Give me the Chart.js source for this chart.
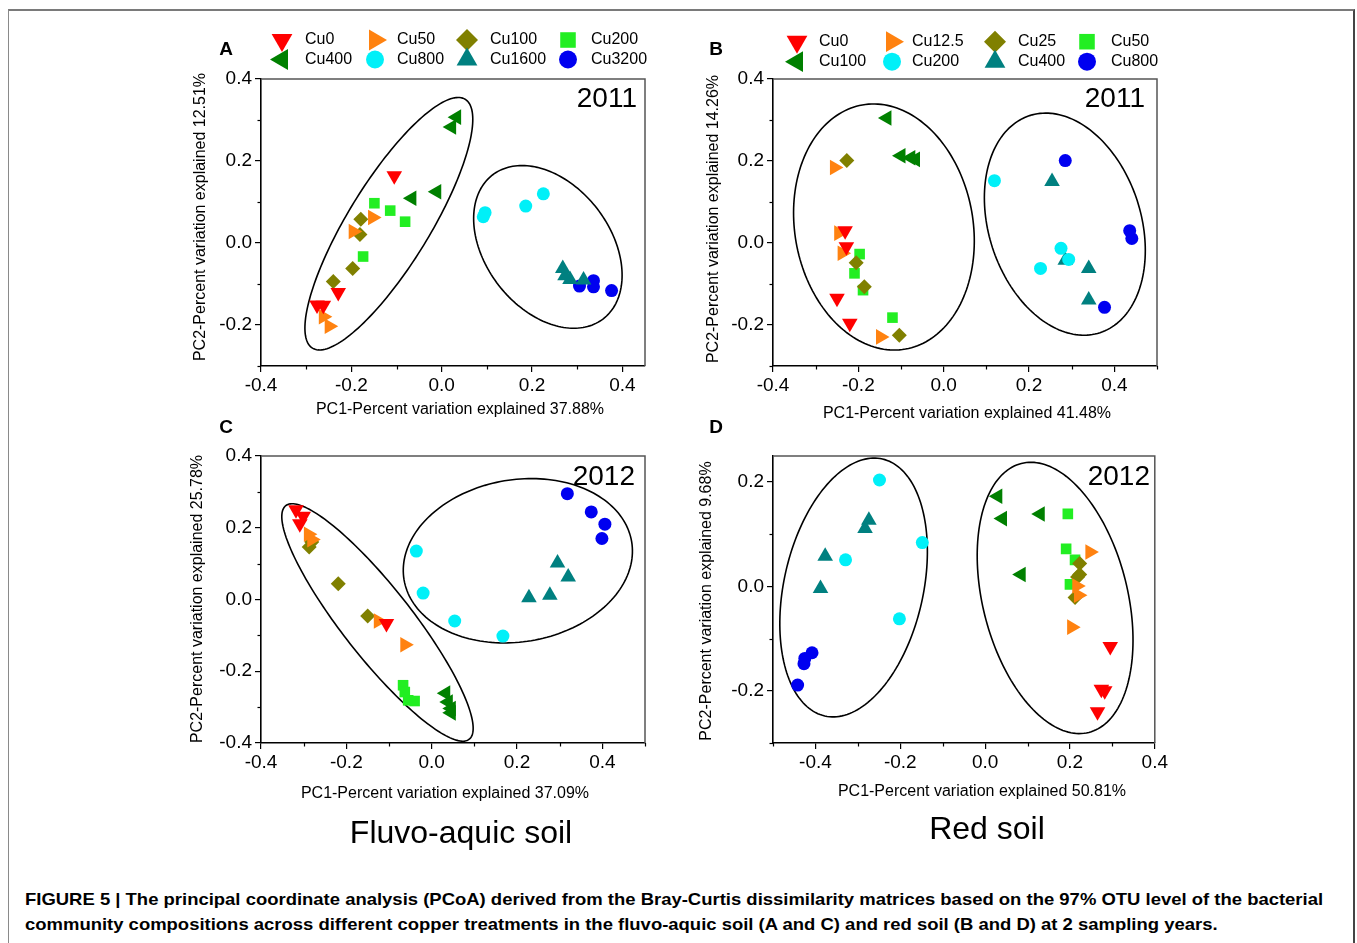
<!DOCTYPE html>
<html>
<head>
<meta charset="utf-8">
<script src="https://cdn.jsdelivr.net/npm/chart.js@4.4.1/dist/chart.umd.min.js"></script>
<style>
  html, body { margin:0; padding:0; background:#fff; }
  body { width:1357px; height:943px; overflow:hidden; position:relative; font-family:"Liberation Sans", Arial, Helvetica, sans-serif; }
  #frame { position:absolute; left:8px; top:9px; width:1344px; height:1000px; border-top:2px solid #7a7a7a; border-left:1.5px solid #8a8a8a; border-right:2px solid #444; }
  canvas { position:absolute; }
  .soil { position:absolute; font-size:32px; color:#000; white-space:nowrap; transform:translate(-50%,-50%); }
  #caption { position:absolute; left:25px; top:887px; font-weight:bold; font-size:17px; line-height:25px; color:#000; white-space:nowrap; }
  #caption div { transform-origin:0 50%; display:block; }
</style>
</head>
<body>
<div id="frame"></div>
<canvas id="cA" width="470" height="400" style="left:190px;top:20px"></canvas>
<canvas id="cB" width="480" height="400" style="left:690px;top:20px"></canvas>
<canvas id="cC" width="470" height="440" style="left:190px;top:410px"></canvas>
<canvas id="cD" width="480" height="440" style="left:690px;top:410px"></canvas>
<div class="soil" style="left:461px;top:832px">Fluvo-aquic soil</div>
<div class="soil" style="left:987px;top:828px">Red soil</div>
<div id="caption">
  <div id="cap1">FIGURE 5 | The principal coordinate analysis (PCoA) derived from the Bray-Curtis dissimilarity matrices based on the 97% OTU level of the bacterial</div>
  <div id="cap2">community compositions across different copper treatments in the fluvo-aquic soil (A and C) and red soil (B and D) at 2 sampling years.</div>
</div>
<script>
// ---------------- DATA ----------------
const treatmentsFluvo = ['Cu0','Cu50','Cu100','Cu200','Cu400','Cu800','Cu1600','Cu3200'];
const treatmentsRed   = ['Cu0','Cu12.5','Cu25','Cu50','Cu100','Cu200','Cu400','Cu800'];

// Panel A: fluvo-aquic soil, 2011  (PC1, PC2) per treatment
const pcoaA = [
  [[-0.105,0.164],[-0.229,-0.121],[-0.276,-0.151],[-0.262,-0.152]],
  [[-0.153,0.062],[-0.196,0.028],[-0.262,-0.180],[-0.249,-0.203]],
  [[-0.179,0.058],[-0.181,0.021],[-0.197,-0.062],[-0.240,-0.094]],
  [[-0.149,0.097],[-0.114,0.079],[-0.081,0.052],[-0.174,-0.033]],
  [[0.033,0.307],[0.022,0.283],[-0.066,0.109],[-0.011,0.125]],
  [[0.092,0.064],[0.096,0.074],[0.186,0.090],[0.225,0.120]],
  [[0.268,-0.062],[0.273,-0.080],[0.284,-0.089],[0.314,-0.090]],
  [[0.305,-0.105],[0.336,-0.092],[0.336,-0.107],[0.376,-0.116]]
];
// Panel B: red soil, 2011
const pcoaB = [
  [[-0.231,0.030],[-0.228,-0.009],[-0.250,-0.135],[-0.220,-0.196]],
  [[-0.256,0.184],[-0.246,0.024],[-0.238,-0.025],[-0.148,-0.229]],
  [[-0.227,0.201],[-0.205,-0.048],[-0.186,-0.107],[-0.104,-0.225]],
  [[-0.197,-0.027],[-0.209,-0.074],[-0.189,-0.115],[-0.120,-0.182]],
  [[-0.133,0.305],[-0.100,0.213],[-0.077,0.208],[-0.066,0.204]],
  [[0.119,0.152],[0.275,-0.013],[0.293,-0.040],[0.227,-0.062]],
  [[0.254,0.150],[0.285,-0.042],[0.340,-0.062],[0.340,-0.139]],
  [[0.285,0.201],[0.436,0.030],[0.441,0.011],[0.377,-0.157]]
];
// Panel C: fluvo-aquic soil, 2012
const pcoaC = [
  [[-0.318,0.250],[-0.301,0.232],[-0.309,0.211],[-0.106,-0.067]],
  [[-0.289,0.182],[-0.281,0.167],[-0.125,-0.060],[-0.063,-0.126]],
  [[-0.281,0.160],[-0.287,0.146],[-0.219,0.044],[-0.150,-0.046]],
  [[-0.067,-0.239],[-0.063,-0.258],[-0.055,-0.281],[-0.040,-0.283]],
  [[0.033,-0.261],[0.039,-0.286],[0.046,-0.304],[0.046,-0.316]],
  [[-0.036,0.135],[-0.020,0.018],[0.054,-0.060],[0.167,-0.102]],
  [[0.228,0.005],[0.277,0.012],[0.295,0.102],[0.320,0.063]],
  [[0.318,0.295],[0.374,0.244],[0.406,0.210],[0.399,0.170]]
];
// Panel D: red soil, 2012
const pcoaD = [
  [[0.295,-0.115],[0.274,-0.197],[0.282,-0.200],[0.265,-0.240]],
  [[0.247,0.066],[0.216,0.001],[0.220,-0.017],[0.204,-0.078]],
  [[0.223,0.044],[0.223,0.023],[0.218,0.018],[0.212,-0.021]],
  [[0.195,0.139],[0.191,0.072],[0.212,0.051],[0.200,0.004]],
  [[0.030,0.173],[0.041,0.130],[0.130,0.139],[0.085,0.023]],
  [[-0.249,0.204],[-0.148,0.084],[-0.329,0.051],[-0.202,-0.062]],
  [[-0.274,0.127],[-0.283,0.111],[-0.377,0.058],[-0.388,-0.004]],
  [[-0.408,-0.127],[-0.425,-0.138],[-0.427,-0.148],[-0.442,-0.189]]
];

// Group ellipses (centre, two conjugate semi-axis vectors, in data units)
const ellipsesA = [ {c:[-0.117,0.047], u:[0.169,0.3035], v:[0.0772,-0.052]}, {c:[0.235,-0.0095], u:[0.1226,-0.1754], v:[0.1094,0.0928]} ];
const ellipsesB = [ {c:[-0.140,0.039], u:[0.0505,-0.2977], v:[0.2057,0.0379]}, {c:[0.284,0.046], u:[0.0825,-0.2647], v:[0.1696,0.0574]} ];
const ellipsesC = [ {c:[-0.127,-0.064], u:[0.215,-0.3255], v:[0.0638,0.0598]}, {c:[0.202,0.108], u:[0.2667,0.0533], v:[0.0315,-0.2228]} ];
const ellipsesD = [ {c:[-0.310,-0.002], u:[0.068,0.2462], v:[0.1601,-0.0295]}, {c:[0.165,-0.022], u:[0.0796,-0.2577], v:[0.1655,0.0341]} ];

// Tick labels
const ticksPC1 = [-0.4,-0.2,0.0,0.2,0.4];
const minorPC1 = [-0.3,-0.1,0.1,0.3];
const minorPC1Wide = [-0.3,-0.1,0.1,0.3,0.5];
const minorPC1D = [-0.5,-0.3,-0.1,0.1,0.3];
const ticksPC2_2011 = [-0.2,0.0,0.2,0.4];
const minorPC2_2011 = [-0.3,-0.1,0.1,0.3];
const ticksPC2_C = [-0.4,-0.2,0.0,0.2,0.4];
const minorPC2_C = [-0.3,-0.1,0.1,0.3];
const ticksPC2_D = [-0.2,0.0,0.2];
const minorPC2_D = [-0.3,-0.1,0.1];

const years = ['2011','2011','2012','2012'];
const panelLetters = ['A','B','C','D'];
const pc1Titles = ['PC1-Percent variation explained 37.88%','PC1-Percent variation explained 41.48%','PC1-Percent variation explained 37.09%','PC1-Percent variation explained 50.81%'];
const pc2Titles = ['PC2-Percent variation explained 12.51%','PC2-Percent variation explained 14.26%','PC2-Percent variation explained 25.78%','PC2-Percent variation explained 9.68%'];

// ---------------- STYLE ----------------
const FONT = '"Liberation Sans", Arial, Helvetica, sans-serif';
const markers = [
  {shape:'triangle', rot:180, color:'#FF0000', r:9,   lr:12},
  {shape:'triangle', rot:90,  color:'#FF8210', r:9,   lr:12},
  {shape:'rectRot',  rot:0,   color:'#808000', r:7.5, lr:11},
  {shape:'rect',     rot:0,   color:'#22EE22', r:7.5, lr:11},
  {shape:'triangle', rot:270, color:'#008000', r:9,   lr:12},
  {shape:'circle',   rot:0,   color:'#00F0F8', r:6.5, lr:9},
  {shape:'triangle', rot:0,   color:'#008080', r:9,   lr:12},
  {shape:'circle',   rot:0,   color:'#0000F0', r:6.5, lr:9}
];

function drawMarker(ctx, m, x, y, r) {
  ctx.save();
  ctx.fillStyle = m.color;
  ctx.beginPath();
  if (m.shape === 'circle') {
    ctx.arc(x, y, r, 0, Math.PI*2);
  } else if (m.shape === 'triangle') {
    let rad = m.rot*Math.PI/180;
    ctx.moveTo(x + Math.sin(rad)*r, y - Math.cos(rad)*r);
    rad += 2*Math.PI/3; ctx.lineTo(x + Math.sin(rad)*r, y - Math.cos(rad)*r);
    rad += 2*Math.PI/3; ctx.lineTo(x + Math.sin(rad)*r, y - Math.cos(rad)*r);
  } else if (m.shape === 'rectRot') {
    ctx.moveTo(x-r, y); ctx.lineTo(x, y-r); ctx.lineTo(x+r, y); ctx.lineTo(x, y+r);
  } else {
    const s = Math.SQRT1_2*r; ctx.rect(x-s, y-s, 2*s, 2*s);
  }
  ctx.closePath(); ctx.fill();
  ctx.restore();
}

// layout of each panel (page coordinates)
const panels = [
  {canvas:'cA', ox:190, oy:20,  pts:pcoaA, names:treatmentsFluvo, ell:ellipsesA, xr:[-0.4,0.45], yr:[-0.3,0.4],
   xt:ticksPC1, xm:minorPC1, yt:ticksPC2_2011, ym:minorPC2_2011, pad:{top:59,right:15,left:0,bottom:0}, yW:71, xH:54,
   letter:[226,50], year:[637,99], xTitle:[460,410], yTitle:[201,217],
   legend:{mx:[282,375,467,568], tx:[305,397,490,591], ry:[40,59.5]}},
  {canvas:'cB', ox:690, oy:20,  pts:pcoaB, names:treatmentsRed, ell:ellipsesB, xr:[-0.4,0.5], yr:[-0.3,0.4],
   xt:ticksPC1, xm:minorPC1Wide, yt:ticksPC2_2011, ym:minorPC2_2011, pad:{top:59,right:13,left:0,bottom:0}, yW:83, xH:54,
   letter:[716,50], year:[1145,99], xTitle:[967,414], yTitle:[714,219],
   legend:{mx:[797,892,995,1087], tx:[819,912,1018,1111], ry:[41.7,61.7]}},
  {canvas:'cC', ox:190, oy:410, pts:pcoaC, names:treatmentsFluvo, ell:ellipsesC, xr:[-0.4,0.5], yr:[-0.4,0.4],
   xt:ticksPC1, xm:minorPC1Wide, yt:ticksPC2_C, ym:minorPC2_C, pad:{top:46,right:15,left:0,bottom:0}, yW:71, xH:107,
   letter:[226,428], year:[635,477], xTitle:[445,794], yTitle:[198,599],
   legend:null},
  {canvas:'cD', ox:690, oy:410, pts:pcoaD, names:treatmentsRed, ell:ellipsesD, xr:[-0.5,0.4], yr:[-0.3,0.25],
   xt:ticksPC1, xm:minorPC1D, yt:ticksPC2_D, ym:minorPC2_D, pad:{top:46,right:13,left:0,bottom:0}, yW:83, xH:107,
   letter:[716,428], year:[1150,477], xTitle:[982,792], yTitle:[707,601],
   legend:null}
];

function fmt(v){ if (Math.abs(v) < 1e-9) v = 0; return v.toFixed(1); }

panels.forEach((p, idx) => {
  const decor = {
    id:'decor'+idx,
    beforeDatasetsDraw(chart) {
      const ctx = chart.ctx, xs = chart.scales.x, ys = chart.scales.y;
      ctx.save();
      ctx.strokeStyle = '#000'; ctx.lineWidth = 1.6;
      p.ell.forEach(e => {
        ctx.beginPath();
        for (let k = 0; k <= 180; k++) {
          const t = k/180*2*Math.PI;
          const dx = e.c[0] + Math.cos(t)*e.u[0] + Math.sin(t)*e.v[0];
          const dy = e.c[1] + Math.cos(t)*e.u[1] + Math.sin(t)*e.v[1];
          const px = xs.getPixelForValue(dx), py = ys.getPixelForValue(dy);
          if (k === 0) ctx.moveTo(px, py); else ctx.lineTo(px, py);
        }
        ctx.closePath(); ctx.stroke();
      });
      ctx.restore();
    },
    afterDraw(chart) {
      const ctx = chart.ctx, a = chart.chartArea, xs = chart.scales.x, ys = chart.scales.y;
      const ox = p.ox, oy = p.oy;
      ctx.save();
      // top / right frame
      ctx.strokeStyle = '#555'; ctx.lineWidth = 1.5;
      ctx.beginPath(); ctx.moveTo(a.left, a.top); ctx.lineTo(a.right, a.top); ctx.lineTo(a.right, a.bottom); ctx.stroke();
      // minor ticks
      ctx.strokeStyle = '#000'; ctx.lineWidth = 1.2;
      p.xm.forEach(v => { const px = Math.round(xs.getPixelForValue(v))+0.5; ctx.beginPath(); ctx.moveTo(px, a.bottom); ctx.lineTo(px, a.bottom+3.5); ctx.stroke(); });
      p.ym.forEach(v => { const py = Math.round(ys.getPixelForValue(v))+0.5; ctx.beginPath(); ctx.moveTo(a.left, py); ctx.lineTo(a.left-3.5, py); ctx.stroke(); });
      ctx.fillStyle = '#000';
      // panel letter
      ctx.font = 'bold 19px ' + FONT; ctx.textAlign = 'center'; ctx.textBaseline = 'middle';
      ctx.fillText(panelLetters[idx], p.letter[0]-ox, p.letter[1]-oy);
      // year
      ctx.font = '28px ' + FONT; ctx.textAlign = 'right';
      ctx.fillText(years[idx], p.year[0]-ox, p.year[1]-oy);
      // axis titles
      ctx.font = '16px ' + FONT; ctx.textAlign = 'center';
      ctx.fillText(pc1Titles[idx], p.xTitle[0]-ox, p.xTitle[1]-oy);
      ctx.save();
      ctx.translate(p.yTitle[0]-ox, p.yTitle[1]-oy); ctx.rotate(-Math.PI/2);
      ctx.fillText(pc2Titles[idx], 0, 0);
      ctx.restore();
      // legend
      if (p.legend) {
        ctx.font = '16px ' + FONT; ctx.textAlign = 'left';
        p.names.forEach((name, i) => {
          const col = i % 4, row = Math.floor(i / 4);
          const y = p.legend.ry[row] - oy;
          drawMarker(ctx, markers[i], p.legend.mx[col]-ox, y, markers[i].lr);
          ctx.fillStyle = '#000';
          ctx.fillText(name, p.legend.tx[col]-ox, y);
        });
      }
      ctx.restore();
    }
  };

  const datasets = p.names.map((name, i) => ({
    label: name,
    data: p.pts[i].map(q => ({x:q[0], y:q[1]})),
    pointStyle: markers[i].shape,
    pointRotation: markers[i].rot,
    pointRadius: markers[i].r,
    pointBackgroundColor: markers[i].color,
    pointBorderColor: markers[i].color,
    pointBorderWidth: 0,
    showLine: false
  }));

  const axisCommon = (ticksArr, range, isX) => ({
    type:'linear', min:range[0], max:range[1],
    afterBuildTicks: s => { s.ticks = ticksArr.map(v => ({value:v})); },
    afterFit: s => { if (isX) s.height = p.xH; else s.width = p.yW; },
    grid: { drawOnChartArea:false, drawTicks:true, tickLength:6, color:'#000', lineWidth:1.2 },
    border: { display:true, color:'#000', width:1.6 },
    ticks: { color:'#000', font:{family:FONT, size:19}, padding: isX ? 2 : 3, autoSkip:false, maxRotation:0, minRotation:0,
             includeBounds:false, callback: v => fmt(v) }
  });

  new Chart(document.getElementById(p.canvas), {
    type:'scatter',
    data:{ datasets },
    options:{
      responsive:false, animation:false, devicePixelRatio:1, events:[],
      layout:{ padding:p.pad },
      plugins:{ legend:{display:false}, tooltip:{enabled:false}, title:{display:false} },
      scales:{ x: axisCommon(p.xt, p.xr, true), y: axisCommon(p.yt, p.yr, false) }
    },
    plugins:[decor]
  });
});

// caption fit
(function(){
  const c1 = document.getElementById('cap1'), c2 = document.getElementById('cap2');
  const r = c1.scrollWidth;
  const s = 1298 / r;
  c1.style.transform = 'scaleX(' + s + ')';
  c2.style.transform = 'scaleX(' + s + ')';
})();
</script>
</body>
</html>
